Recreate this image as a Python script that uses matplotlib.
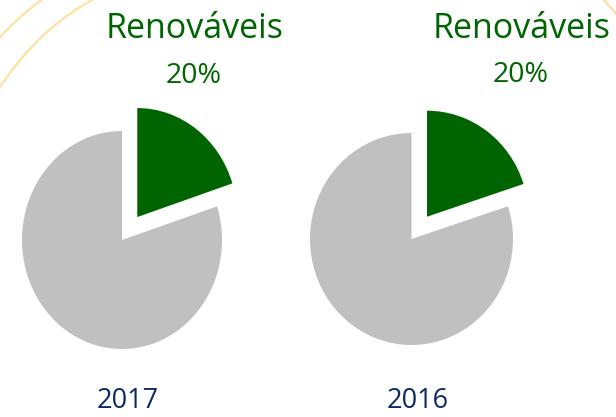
import numpy as np
import matplotlib.pyplot as plt
from matplotlib.path import Path
from matplotlib.patches import PathPatch

W, H = 616, 417

# data
years = ['2017', '2016']
label = 'Renováveis'
renovaveis = [20, 20]
outros = [80, 80]

green = '#006400'
grey = '#c0c0c0'
navy = '#0b2a66'
deco = '#ffe09a'

plt.rcParams['font.family'] = ['Open Sans', 'DejaVu Sans']

fig = plt.figure(figsize=(W / 100, H / 100), dpi=100)

# background axes in pixel coords, for the decorative curves
bg = fig.add_axes([0, 0, 1, 1])
bg.set_xlim(0, W)
bg.set_ylim(H, 0)
bg.axis('off')
curves = [
    [(-10, 48), (22, 12), (46, -3)],
    [(-6, 96), (38, 26), (100, -4)],
    [(600, -4), (608, 4), (618, 16)],
]
for pts in curves:
    path = Path(pts, [Path.MOVETO, Path.CURVE3, Path.CURVE3])
    bg.add_patch(PathPatch(path, fill=False, edgecolor=deco, lw=1.5))

# pie geometry in pixels: center x, center y (from top), radius x, radius y
geom = [(122, 240, 100, 109), (411.5, 239, 101.5, 106)]
L = 1.5

for i, (cx, cy, rx, ry) in enumerate(geom):
    ax = fig.add_axes([(cx - L * rx) / W, (H - cy - L * ry) / H,
                       2 * L * rx / W, 2 * L * ry / H])
    ax.pie([renovaveis[i], outros[i]], colors=[green, grey],
           explode=[0.26, 0], startangle=90, counterclock=False,
           wedgeprops=dict(linewidth=0))
    ax.set_aspect('auto')
    ax.set_xlim(-L, L)
    ax.set_ylim(-L, L)
    ax.axis('off')

label_pos = [(195, 38, 193.5, 83), (522, 38, 521, 82)]
for i, (lx, ly, px, py) in enumerate(label_pos):
    fig.text(lx / W, 1 - ly / H, label, color=green, fontsize=24.5,
             ha='center', va='baseline')
    fig.text(px / W, 1 - py / H, f'{renovaveis[i]}%', color=green, fontsize=20.5,
             ha='center', va='baseline')

year_x = [128, 418]
for i, y in enumerate(years):
    fig.text(year_x[i] / W, 1 - 408 / H, y, color=navy, fontsize=19.5,
             ha='center', va='baseline')

fig.savefig('out.png', dpi=100)
